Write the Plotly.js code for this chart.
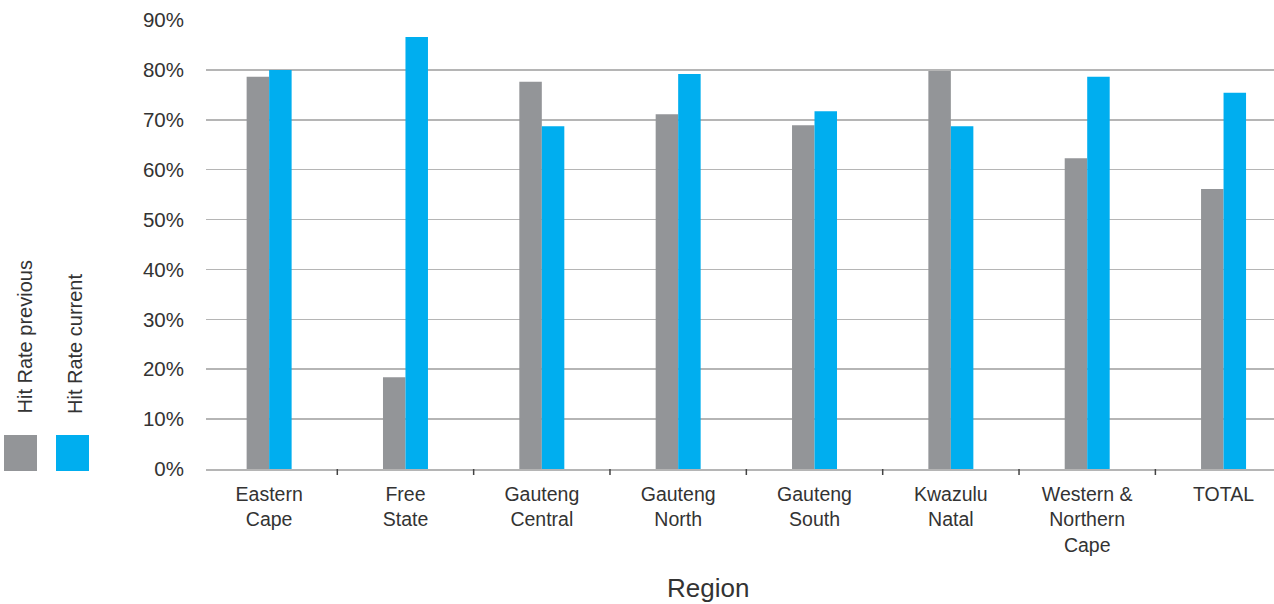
<!DOCTYPE html>
<html>
<head>
<meta charset="utf-8">
<script src="https://cdn.plot.ly/plotly-3.0.1.min.js"></script>
<style>
html,body{margin:0;padding:0;background:#fff;}
#chart{width:1274px;height:604px;}
</style>
</head>
<body>
<div id="chart"></div>
<script>
const categories = ["Eastern<br>Cape", "Free<br>State", "Gauteng<br>Central", "Gauteng<br>North", "Gauteng<br>South", "Kwazulu<br>Natal", "Western &<br>Northern<br>Cape", "TOTAL"];
const hitRatePrevious = [78.6, 18.4, 77.6, 71.1, 68.9, 79.8, 62.3, 56.1];
const hitRateCurrent = [80.0, 86.6, 68.7, 79.2, 71.7, 68.7, 78.6, 75.4];
const seriesNames = ["Hit Rate previous", "Hit Rate current"];
const yTickVals = [0, 10, 20, 30, 40, 50, 60, 70, 80, 90];
const yTickText = ["0%", "10%", "20%", "30%", "40%", "50%", "60%", "70%", "80%", "90%"];
const xTitle = "Region";

const GRAY = "#939598";
const BLUE = "#00aeef";
const FONT = "Liberation Sans, Arial, sans-serif";
const TXT = "#333333";

const xIdx = categories.map((_, i) => i);

const traces = [
  {type: "bar", name: seriesNames[0], x: xIdx, y: hitRatePrevious, marker: {color: GRAY}, hoverinfo: "y", showlegend: false},
  {type: "bar", name: seriesNames[1], x: xIdx, y: hitRateCurrent, marker: {color: BLUE}, hoverinfo: "y", showlegend: false}
];

const layout = {
  width: 1274, height: 604,
  margin: {l: 206, r: 0, t: 20, b: 135, pad: 0},
  paper_bgcolor: "#ffffff", plot_bgcolor: "#ffffff",
  font: {family: FONT, color: TXT, size: 20},
  barmode: "group", bargap: 0.67, bargroupgap: 0,
  xaxis: {
    range: [-0.463, 7.37],
    tickmode: "array",
    tickvals: xIdx,
    ticktext: categories,
    showgrid: false,
    zeroline: false,
    showline: true, linecolor: "#b5b5b5", linewidth: 1.6,
    ticks: "", ticklabelstandoff: 7,
    tickfont: {family: FONT, size: 19.5, color: TXT}
  },
  yaxis: {
    range: [0, 90],
    tickmode: "array", tickvals: yTickVals, ticktext: yTickText,
    showgrid: true, gridcolor: "#b5b5b5", gridwidth: 1.6,
    zeroline: false, showline: false,
    ticks: "", ticklabelstandoff: 21,
    tickfont: {family: FONT, size: 20.5, color: TXT}
  },
  shapes: [],
  annotations: [
    {xref: "paper", yref: "paper", x: (24 - 206) / 1068, y: (469 - 416) / 449, xanchor: "center", yanchor: "bottom", textangle: -90, text: seriesNames[0], showarrow: false, font: {family: FONT, size: 20, color: TXT}},
    {xref: "paper", yref: "paper", x: (75 - 206) / 1068, y: (469 - 416) / 449, xanchor: "center", yanchor: "bottom", textangle: -90, text: seriesNames[1], showarrow: false, font: {family: FONT, size: 20, color: TXT}},
    {xref: "paper", yref: "paper", x: (708 - 206) / 1068, y: (469 - 588) / 449, xanchor: "center", yanchor: "middle", text: xTitle, showarrow: false, font: {family: FONT, size: 26, color: TXT}}
  ]
};

// category boundary tick marks
for (let k = 0; k < categories.length - 1; k++) {
  layout.shapes.push({type: "line", xref: "x", yref: "paper", x0: k + 0.5, x1: k + 0.5, y0: 0, y1: -6 / 449, line: {color: "#444", width: 1.5}});
}
// legend swatches
layout.shapes.push({type: "rect", xref: "paper", yref: "paper", x0: (4 - 206) / 1068, x1: (37 - 206) / 1068, y0: (469 - 471) / 449, y1: (469 - 435) / 449, fillcolor: GRAY, line: {width: 0}});
layout.shapes.push({type: "rect", xref: "paper", yref: "paper", x0: (56 - 206) / 1068, x1: (89 - 206) / 1068, y0: (469 - 471) / 449, y1: (469 - 435) / 449, fillcolor: BLUE, line: {width: 0}});

Plotly.newPlot("chart", traces, layout, {displayModeBar: false, staticPlot: true});
</script>
</body>
</html>
